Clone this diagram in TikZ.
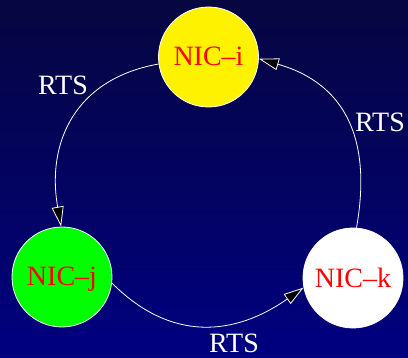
\documentclass[tikz,border=0pt]{standalone}
\usepackage{fontspec}
\setmainfont{Liberation Serif}
\usetikzlibrary{arrows.meta}
\begin{document}
\begin{tikzpicture}[x=1pt,y=1pt,
  nic/.style={circle, draw=white, line width=0.8pt, minimum size=100pt, inner sep=0pt,
    text=red, font=\fontsize{28}{30}\selectfont, text height=18pt, text depth=0pt},
  link/.style={draw=white, line width=0.8pt,
    -{Triangle[length=20pt,width=12pt,fill=black]}},
  lbl/.style={text=white, font=\fontsize{28}{30}\selectfont, anchor=base, inner sep=0pt}]
  % background
  \shade[top color={rgb,255:red,6;green,6;blue,64}, bottom color={rgb,255:red,0;green,0;blue,128}]
    (0,0) rectangle (408,357);
  \useasboundingbox (0,0) rectangle (408,357);

  % stations
  \node[nic, fill=yellow] (i) at (208.5,300) {NIC--i};
  \node[nic, fill={rgb,255:red,0;green,255;blue,0}] (j) at (62,80) {NIC--j};
  \node[nic, fill=white] (k) at (353,79) {NIC--k};

  % RTS ring
  \draw[link] (i.188) .. controls +(190:85) and +(100:85) .. (j.91);
  \draw[link] (j.-7) .. controls +(-45:84) and +(215:84) .. (k.191);
  \draw[link] (k.86) .. controls +(80:90) and +(-16:90) .. (i.-2);

  % labels
  \node[lbl] (la) at (63,262) {RTS};
  \node[lbl] (lb) at (234,5) {RTS};
  \node[lbl] (lc) at (380,225) {RTS};
\end{tikzpicture}
\end{document}
